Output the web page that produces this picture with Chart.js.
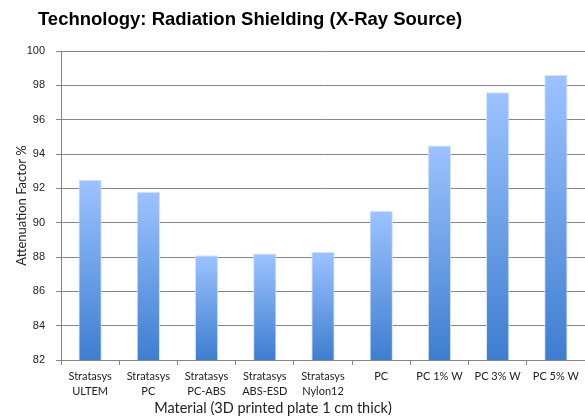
<!DOCTYPE html>
<html>
<head>
<meta charset="utf-8">
<script src="https://cdn.jsdelivr.net/npm/chart.js@4"></script>
<style>
  html, body { margin: 0; padding: 0; background: #fff; }
  #wrap { width: 585px; height: 417px; }
</style>
</head>
<body>
<div id="wrap"><canvas id="myChart"></canvas></div>
<script>
const materiales = [
  ['Stratasys', 'ULTEM'],
  ['Stratasys', 'PC'],
  ['Stratasys', 'PC-ABS'],
  ['Stratasys', 'ABS-ESD'],
  ['Stratasys', 'Nylon12'],
  'PC',
  'PC 1% W',
  'PC 3% W',
  'PC 5% W'
];
const atenuacion = [92.5, 91.8, 88.1, 88.2, 88.3, 90.7, 94.5, 97.6, 98.6];
const yMin = 82, yMax = 100, yStep = 2;

const tituloChart = 'Technology: Radiation Shielding (X-Ray Source)';
const tituloX = 'Material (3D printed plate 1 cm thick)';
const tituloY = 'Attenuation Factor %';

// degradado por barra: claro arriba, oscuro abajo
function colorBarra(context) {
  const chart = context.chart;
  const area = chart.chartArea;
  if (!area) return '#6a9ee8';
  const yScale = chart.scales.y;
  const top = yScale.getPixelForValue(context.raw);
  const g = chart.ctx.createLinearGradient(0, top, 0, area.bottom);
  g.addColorStop(0, '#9dc3ff');
  g.addColorStop(1, '#3e7ed0');
  return g;
}

const textosExtra = {
  id: 'textosExtra',
  afterDraw(chart) {
    const ctx = chart.ctx;
    ctx.save();
    ctx.fillStyle = '#000';
    ctx.textAlign = 'center';
    ctx.textBaseline = 'middle';
    ctx.font = 'bold 18.5px "Liberation Sans", Arial, sans-serif';
    ctx.fillText(tituloChart, 250, 20);
    ctx.font = '14.5px Lato, "Open Sans", sans-serif';
    ctx.fillStyle = '#222';
    ctx.fillText(tituloX, 273, 408);
    ctx.restore();
  }
};

const lienzo = document.getElementById('myChart');
new Chart(lienzo, {
  type: 'bar',
  data: {
    labels: materiales,
    datasets: [{
      label: 'Attenuation',
      data: atenuacion,
      backgroundColor: colorBarra,
      borderColor: '#d3e3f8',
      borderWidth: 1,
      barPercentage: 0.4,
      categoryPercentage: 1
    }]
  },
  options: {
    responsive: true,
    maintainAspectRatio: false,
    animation: false,
    layout: { padding: { top: 51, right: -3, left: 0, bottom: 0 } },
    plugins: {
      legend: { display: false },
      title: { display: false },
      tooltip: { enabled: false }
    },
    scales: {
      x: {
        afterFit: (scale) => { scale.height = 57; },
        grid: {
          offset: true,
          drawOnChartArea: false,
          drawTicks: true,
          tickLength: 5,
          color: '#868686'
        },
        border: { color: '#868686', width: 1 },
        ticks: {
          color: '#222',
          font: { family: 'Lato, "Open Sans", sans-serif', size: 11, lineHeight: 1.45 },
          padding: 3,
          maxRotation: 0,
          autoSkip: false
        }
      },
      y: {
        min: yMin,
        max: yMax,
        afterFit: (scale) => { scale.width = 61; },
        grid: {
          color: '#868686',
          tickLength: 5
        },
        border: { color: '#868686', width: 1 },
        ticks: {
          stepSize: yStep,
          color: '#222',
          font: { family: '"Liberation Sans", Arial, sans-serif', size: 11 },
          padding: 11
        },
        title: {
          display: true,
          text: tituloY,
          color: '#222',
          font: { family: 'Lato, "Open Sans", sans-serif', size: 13 },
          padding: { top: 14, bottom: 0 }
        }
      }
    }
  },
  plugins: [textosExtra]
});
</script>
</body>
</html>
